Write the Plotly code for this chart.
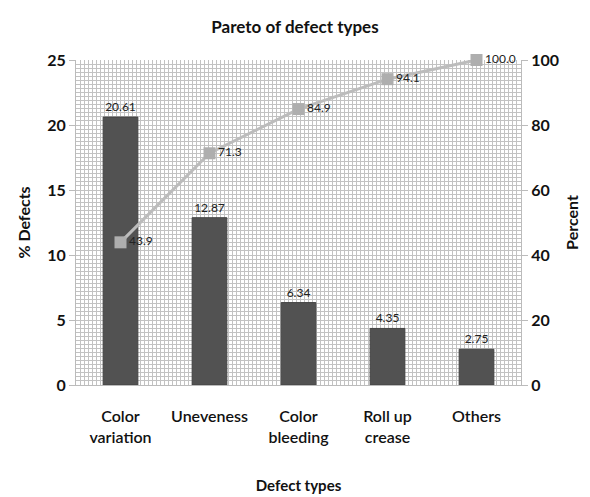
import plotly.graph_objects as go

categories = ["Color<br>variation", "Uneveness", "Color<br>bleeding", "Roll up<br>crease", "Others"]
defects = [20.61, 12.87, 6.34, 4.35, 2.75]
cum_percent = [43.9, 71.3, 84.9, 94.1, 100.0]

FONT = "Lato"
fig = go.Figure()

# invisible trace to carry the fine background grid on a linear x axis
fig.add_trace(go.Scatter(x=[0, 5], y=[0, 0], xaxis="x2", yaxis="y",
                         mode="markers", marker=dict(opacity=0), hoverinfo="skip", showlegend=False))

fig.add_trace(go.Bar(
    x=categories, y=defects, width=0.39,
    marker=dict(color="#525252", line=dict(color="#444444", width=1)),
    text=[f"{v:.2f}" for v in defects], textposition="outside",
    textfont=dict(family=FONT, size=12, color="#222222"),
    cliponaxis=False, showlegend=False, hoverinfo="skip"))

fig.add_trace(go.Scatter(
    x=categories, y=cum_percent, yaxis="y2", mode="lines+markers+text",
    line=dict(color="#bcbcbc", width=3),
    marker=dict(symbol="square", size=12, color="#aeaeae"),
    text=[f"{v:.1f}" for v in cum_percent], textposition="middle right",
    textfont=dict(family=FONT, size=12, color="#222222"),
    cliponaxis=False, showlegend=False, hoverinfo="skip"))

tickfont = dict(size=16, family=FONT, color="#111111", weight="bold")

fig.update_layout(
    width=590, height=497,
    margin=dict(l=76, r=69, t=60, b=112, autoexpand=False),
    paper_bgcolor="white", plot_bgcolor="white",
    font=dict(family=FONT, color="#111111"),
    title=dict(text="<b>Pareto of defect types</b>", x=0.5, xanchor="center",
               y=0.945, yanchor="middle", font=dict(size=17, family=FONT, color="#111111")),
    xaxis=dict(type="category", showgrid=False, showline=True, linecolor="#bbbbbb",
               tickfont=dict(size=16, family=FONT, color="#111111", weight=600),
               ticks="", ticklabelstandoff=17, automargin=False,
               title=dict(text="<b>Defect types</b>", font=dict(size=15, family=FONT), standoff=35)),
    xaxis2=dict(overlaying="x", range=[0, 5], showticklabels=False, showgrid=True,
                dtick=5/111, gridcolor="#c2c2c2", gridwidth=1, zeroline=False,
                layer="below traces", automargin=False),
    yaxis=dict(range=[0, 25], dtick=5, showgrid=True, gridcolor="#c2c2c2",
               minor=dict(dtick=0.3125, showgrid=True, gridcolor="#c2c2c2", gridwidth=1),
               showline=True, linecolor="#bbbbbb", ticks="outside", ticklen=6, tickcolor="#bbbbbb",
               zeroline=False, automargin=False,
               tickfont=tickfont,
               title=dict(text="<b>% Defects</b>", font=dict(size=16, family=FONT), standoff=12)),
    yaxis2=dict(overlaying="y", side="right", range=[0, 100], dtick=20, showgrid=False,
                showline=True, linecolor="#bbbbbb", ticks="outside", ticklen=6, tickcolor="#bbbbbb",
                zeroline=False, automargin=False,
                tickfont=tickfont,
                title=dict(text="<b>Percent</b>", font=dict(size=16, family=FONT), standoff=8)),
)

fig.write_html("out.html", config={"displayModeBar": False},
               post_script="document.body.style.margin='0';")
